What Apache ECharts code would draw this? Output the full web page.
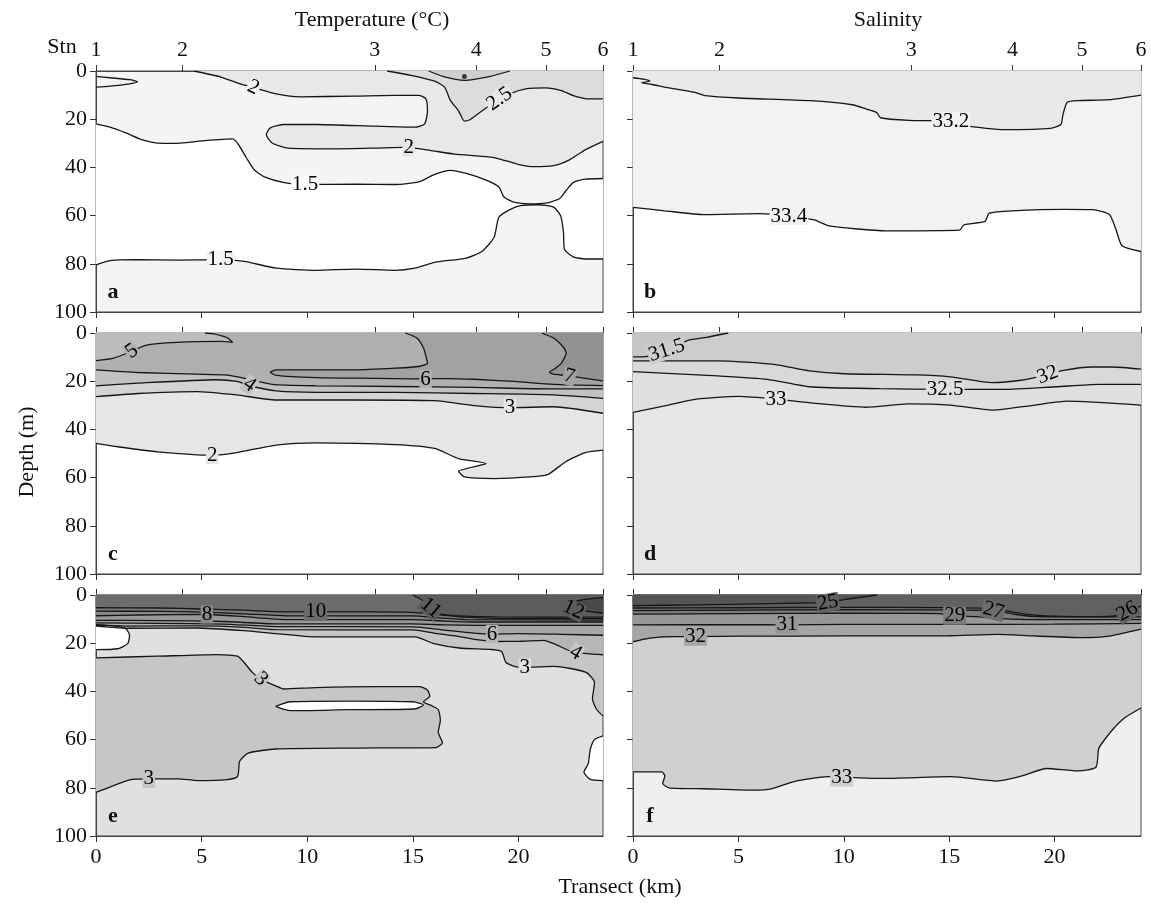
<!DOCTYPE html>
<html lang="en">
<head>
<meta charset="utf-8">
<title>Temperature and salinity sections</title>
<script src="https://cdn.jsdelivr.net/npm/echarts@6/dist/echarts.min.js"></script>
<style>
html, body { margin: 0; background: #fff; }
#main { width: 1151px; height: 906px; }
</style>
</head>
<body>
<div id="main"></div>
<script>
// ---- axes ----
var stnKmL = [0, 4.1, 13.2, 18.0, 21.3, 24.0];
var stnKmR = [0, 4.1, 13.2, 18.0, 21.3, 24.1];
var stnNames = ['1', '2', '3', '4', '5', '6'];
var kmTicks = [0, 5, 10, 15, 20];
var depthTicks = [0, 20, 40, 60, 80, 100];

// ---- panel a : temperature ----
var aTongue = [[0,2.2],[0.66,2.8],[1.59,3.6],[1.97,4.5],[1.59,5.3],[0.66,6.3],[0,6.7]];
var aT2 = [[4.63,0],[5.91,2.5],[6.84,5.3],[7.5,7.0],[8.53,9.5],[9.66,10.7],[12.28,10.4],[14.16,10.1],[15.28,10.1],[15.62,11.6],[15.69,16.5],[15.56,21.9],[15.09,23.3],[13.22,22.9],[10.41,22.2],[8.91,22.2],[8.25,23.6],[8.06,26.4],[8.34,29.9],[9.09,32],[11.34,32.3],[13.22,32],[14.53,31.7],[15.66,32.7],[16.97,34.5],[18.84,35.9],[19.97,38.7],[20.72,39.7],[21.66,39.3],[22.41,36.9],[23.16,32.7],[24,29.2]];
var aT25 = [[13.78,0],[14.91,1.8],[16.03,4.2],[16.5,6.7],[16.78,12.3],[17.16,16.5],[17.44,20.8],[17.72,20.1],[18.28,16.5],[18.75,13.7],[19.59,9.5],[20.34,7.4],[21.28,7.0],[22.03,8.1],[22.59,10.2],[23.34,11.6],[24,11.6]];
var aT3 = [[15.75,0],[16.41,2.2],[17.44,3.9],[18.66,2.2],[19.59,0]];
var aT15up = [[0,21.9],[0.66,23.3],[1.41,25.7],[2.16,28.5],[2.91,29.9],[3.84,30],[5.16,28.9],[6.47,28.2],[6.75,30.6],[7.13,36.2],[7.5,41.1],[7.97,43.9],[8.91,46.3],[9.84,47.1],[12.28,47],[14.16,47.1],[15.28,46],[16.03,42.9],[16.78,41.2],[17.53,42.5],[18.47,45.3],[19.07,48.1],[19.31,52.3],[19.78,54.4],[20.53,55.1],[21.28,54.8],[21.94,53],[22.26,49.5],[22.59,46.3],[23.16,44.9],[24,44.6]];
var aT15lo = [[0,80.4],[0.66,78.7],[1.97,78.3],[3.84,78.5],[5.91,78.3],[7.03,79],[8.53,81.8],[10.41,82.7],[12.28,82.2],[14.16,82.7],[15.09,81.8],[16.03,79.4],[17.53,77.6],[18.28,74.8],[18.84,69.1],[19.07,60.7],[19.59,57.5],[20.16,55.8],[20.91,55.5],[21.66,56.5],[21.99,60],[22.13,67],[22.18,74.1],[22.59,77.1],[23.16,78],[24,78]];
var aDot = [[17.44,2.3]];
var aLabels = [[7.45,6.8,'2'],[14.8,31.7,'2'],[19.1,11.6,'2.5'],[9.9,47.1,'1.5'],[5.9,78.3,'1.5']];

// ---- panel b : salinity ----
var bS332 = [[0,2.8],[0.5,3.4],[0.8,4.2],[0.4,4.9],[0.9,5.6],[1.7,7],[2.9,8.8],[3.4,10.2],[5,11.2],[8.4,12.3],[10.4,14],[11.07,15.8],[11.57,17.3],[11.74,19.4],[13.08,20.5],[15.08,20.8],[15.92,22.9],[17.6,24.3],[19.8,23.8],[20.3,22.2],[20.4,18],[20.6,13],[21.1,12.3],[22.6,11.9],[24.1,10]];
var bS334 = [[0,56.6],[1.5,58],[3.4,59.6],[6,59.2],[7.4,60.2],[8.6,61.8],[9.3,64.3],[12,66.3],[15.5,66],[15.7,63.8],[16.7,62.4],[16.9,59],[18,58],[20.5,57.4],[21.8,57.5],[22.6,59.5],[22.9,65.5],[23.2,72.5],[24.1,74.9]];
var bLabels = [[15.08,20.8,'33.2'],[7.4,60.2,'33.4']];

// ---- panel c : temperature ----
var cT7 = [[21.1,0],[21.66,2.1],[22.1,5.6],[22.26,8.3],[22.03,12.5],[21.75,14.6],[21.47,16.3],[21.66,17.1],[22.22,17.6],[23.16,18.8],[24,19.9]];
var cT6 = [[14.63,0],[15.19,2.1],[15.51,6.3],[15.62,9.7],[15.69,12.5],[15.28,13.9],[14.16,14.6],[12.28,15.3],[10.41,15.3],[8.53,15.3],[8.25,16.3],[8.53,17.6],[10.41,18.5],[13.22,18.8],[14.91,19],[16.6,18.9],[17.9,19.2],[19.8,20.1],[21.66,21.3],[24,21.8]];
var cT5top = [[0,11.5],[0.84,10.4],[1.69,7.6],[2.34,5.1],[3.84,3.9],[5.91,3.5],[6.47,3.9],[6.24,2.1],[5.53,0.3],[5.16,0]];
var cT5 = [[0,15.3],[1.97,16.4],[4.78,17.1],[6.09,17.4],[7.03,18.8],[8.34,21.3],[10.41,21.9],[14.16,22.2],[17.91,22.6],[21.66,23.2],[24,23.2]];
var cT4 = [[0,21.9],[1.97,20.8],[5.72,19.4],[6.66,20.1],[7.41,22.2],[8.53,24],[10.41,24.6],[14.16,24.6],[17.91,25.1],[21.66,25.7],[24,27.1]];
var cT3 = [[0,26.4],[1.97,25.1],[4.78,24.3],[6.66,25.7],[8.53,27.8],[12.28,27.8],[16.03,28.1],[17.91,30.1],[19.6,31],[21.66,30.6],[24,33.3]];
var cT2 = [[0,45.8],[1.03,47.2],[2.91,49.3],[5.53,50.7],[6.66,49.6],[8.53,46.5],[10.41,45.6],[14.16,46.3],[16.03,47.9],[17.16,52.1],[18.47,54.2],[17.16,57.4],[17.44,59.7],[18.84,60.4],[20.72,59.6],[21.38,58.8],[22.22,53.5],[23.16,49.6],[24,48.6]];
var cLabels = [[1.7,7.6,'5'],[15.6,19.1,'6'],[22.4,18,'7'],[7.26,21.5,'4'],[19.6,31,'3'],[5.5,50.7,'2']];

// ---- panel d : salinity ----
var dS315 = [[0,9.9],[0.6,9.8],[1.6,7.2],[2.6,3.1],[3.5,1.8],[4.52,0]];
var dS32 = [[0,11.6],[4.02,11.6],[6.69,13],[8.37,15.7],[10.04,16.9],[13.39,17.4],[15.06,18.2],[17.07,20.6],[18.41,19.6],[19.67,17.4],[20.42,15.5],[21.76,14.1],[22.76,14.1],[24.1,15]];
var dS325 = [[0,16],[4.02,17.8],[6.36,19.2],[8.37,22.3],[11.72,23.1],[14.81,23.4],[17.57,23.4],[20.08,22.3],[22.09,21.3],[24.1,21.3]];
var dS33 = [[0,32.9],[1.67,29.9],[3.01,27.4],[5.02,26.3],[6.78,27.4],[8.54,29.1],[11.05,30.8],[13.05,29.4],[15.06,29.9],[17.07,32],[19.08,29.9],[20.59,28.3],[24.1,29.9]];
var dLabels = [[1.6,7.2,'31.5'],[19.67,17.4,'32'],[14.81,23.4,'32.5'],[6.78,27.4,'33']];

// ---- panel e : temperature ----
var eT12 = [[24,1],[23,2],[22.5,3.5],[22.6,5.5],[23.3,6.8],[24,7.5]];
var eT11 = [[15,0],[15.5,2.5],[15.9,5.5],[16.4,8],[17.5,8.8],[19,9.1],[21,9.2],[24,9.2]];
var eT10 = [[0,5.3],[3,5.4],[5,5.8],[7,6.3],[8.5,6.9],[10.4,7],[13,7],[15,7.2],[16,8],[17.5,9.2],[19,9.7],[24,9.8]];
var eT9 = [[0,6.7],[3,6.8],[5,7.1],[7,7.8],[9,8.6],[15,8.7],[16.2,9.5],[17.5,10.2],[24,10.4]];
var eT8 = [[0,8.6],[2,8.3],[5.25,8.1],[7,9],[9,10.2],[15,10.2],[16.5,10.8],[18,11.2],[24,11.2]];
var eT7 = [[0,10.5],[3,10.6],[6,11],[8.5,12],[15,12],[16.5,12.4],[18,12.6],[24,12.6]];
var eT6 = [[0,11.6],[3,11.8],[6,12.1],[8.5,13.1],[15,13.2],[16.5,14.6],[18,15.9],[18.75,16.2],[20,16],[22,16.3],[24,16.7]];
var eT4 = [[0,12.3],[1.6,12.9],[4.8,12.8],[7,13.4],[8.5,14.4],[15,14.5],[16,15.8],[17,17],[18,18.5],[19,19.3],[20.1,19.2],[21.2,18.8],[21.8,20.7],[22.6,23.7],[24,24.8]];
var eT3a = [[0,12.9],[1.6,13.8],[4.8,13.7],[7,14.8],[8.5,16],[10.4,17.4],[15.1,17.4],[16,20.2],[17.2,22],[18.7,22.6],[19.2,23.4],[19.4,27.9],[19.8,29.6],[20.3,30],[21.7,29.6],[23.2,32.1],[23.6,36.3],[23.5,43.2],[23.7,47.5],[24,50.2]];
var eT3b = [[0,26.1],[2.9,25.4],[5.7,24.7],[6.7,25.4],[7,27.9],[7.4,32.1],[7.8,34.9],[8.5,37.7],[8.9,39],[10.4,38.4],[13.2,38],[15.3,38],[15.7,39.5],[15.8,42],[15.5,44.3],[15.9,46],[16.2,47.5],[16.3,52],[16.2,57],[16.4,61.3],[16.1,63.3],[12.3,63.5],[8.5,63.9],[7.2,65.6],[6.8,69],[6.7,75.3],[6.1,76.7],[4.8,77],[3.9,76.3],[2.5,76.3],[1.6,76.7],[0,81.9]];
var eHole = [[8.5,46.2],[9.2,44.3],[12,44],[15,44.3],[15.5,45.6],[15.1,47.3],[12,47.6],[9.2,48],[8.5,46.2]];
var eWarmL = [[0,12.6],[0.84,12.8],[1.41,14],[1.59,16.7],[1.5,20.2],[1.03,22.3],[0,22.7]];
var eColdR = [[24,58.5],[23.6,60],[23.4,64],[23.3,70],[23.1,73.5],[23.4,76.5],[24,77]];
var eLabels = [[5.25,8.1,'8'],[10.4,7,'10'],[15.85,5.4,'11'],[22.6,6.1,'12'],[18.75,16.2,'6'],[22.7,24,'4'],[20.3,30,'3'],[7.8,34.9,'3'],[2.5,76.3,'3']];

// ---- panel f : salinity ----
var fS25 = [[0,4.4],[3,4.1],[6,3.7],[8.5,3.3],[9.24,3.2],[10.07,1.8],[11.58,0]];
var fS26 = [[0,5.4],[5,5.3],[10,5.1],[15,5.2],[17,5.6],[18.5,7.8],[20,8.8],[22,9],[23,8.5],[23.5,6.8],[24.1,4.6]];
var fS27 = [[0,6.5],[5,6.3],[10,6.1],[15,6.2],[16.5,6.4],[17.1,6.5],[18.5,8.5],[20,9.1],[22,9.1],[24.1,9.1]];
var fS29 = [[0,7.9],[5,7.7],[10,7.5],[14.5,7.7],[15.26,8.6],[16.3,9],[17.5,9.8],[19,10.2],[24.1,10.2]];
var fS31 = [[0,12.4],[5,12.3],[7.31,12.4],[10,12.2],[15,12.2],[20,12.1],[24.1,11.8]];
var fS32 = [[0,19.4],[0.8,17.9],[2,17.3],[2.96,17.3],[5,17.1],[10,17],[15,16.9],[17.3,16.3],[19,17],[21.3,17.7],[22.5,17.2],[24.1,14.2]];
var fS33 = [[0,73.4],[1.37,73.4],[1.51,75.1],[1.41,78.2],[1.71,80],[3.38,80.4],[5.89,81],[6.56,80.4],[7.73,77.2],[9.24,75.4],[11.75,76.1],[15.1,75.4],[17.27,77.2],[18.44,75.1],[19.61,72],[21.12,73],[21.96,71.5],[22.09,63.8],[22.29,61],[22.8,55.4],[23.3,51.1],[24.1,46.9]];
var fLabels = [[9.24,3.2,'25'],[23.45,6.8,'26'],[17.1,6.5,'27'],[15.26,8.6,'29'],[7.31,12.4,'31'],[2.96,17.3,'32'],[9.9,75.8,'33']];

// ---------------------------------------------------------------
var FONT = '"Liberation Serif", "DejaVu Serif", serif';
var chart = echarts.init(document.getElementById('main'));

var LEFT = [96, 633], WIDTH = [507, 508], TOP = [71, 333, 595], HEIGHT = 241;
var XMAX = [24, 24.1];
var bg = ['#f4f4f4', '#ffffff', '#ffffff', '#e6e6e6', '#e0e0e0', '#efefef'];

var grids = [], xAxes = [], yAxes = [], series = [];
var tickStyle = { color: '#333', width: 1 };
var lab = { fontFamily: FONT, fontSize: 22, color: '#111' };

for (var i = 0; i < 6; i++) {
    var col = i % 2, row = Math.floor(i / 2);
    var stn = col === 0 ? stnKmL : stnKmR;
    grids.push({ left: LEFT[col], top: TOP[row], width: WIDTH[col], height: HEIGHT,
        show: true, backgroundColor: bg[i], borderColor: '#444', borderWidth: 1 });
    xAxes.push({ gridIndex: i, type: 'value', min: 0, max: XMAX[col], position: 'bottom',
        axisLine: { show: true, onZero: false, lineStyle: { color: '#444' } },
        axisTick: { show: true, length: 6, customValues: kmTicks, lineStyle: tickStyle },
        axisLabel: Object.assign({ show: row === 2, customValues: kmTicks, margin: 10 }, lab),
        splitLine: { show: false } });
    xAxes.push({ gridIndex: i, type: 'value', min: 0, max: XMAX[col], position: 'top',
        axisLine: { show: true, onZero: false, lineStyle: { color: '#444' } },
        axisTick: { show: true, length: 6, customValues: stn, lineStyle: tickStyle },
        axisLabel: Object.assign({ show: row === 0, customValues: stn, margin: 10,
            formatter: (function (s) {
                return function (v) {
                    var best = 0;
                    for (var k = 0; k < s.length; k++) if (Math.abs(s[k] - v) < Math.abs(s[best] - v)) best = k;
                    return stnNames[best];
                };
            })(stn) }, lab),
        splitLine: { show: false } });
    yAxes.push({ gridIndex: i, type: 'value', min: 0, max: 100, inverse: true,
        axisLine: { show: true, onZero: false, lineStyle: { color: '#444' } },
        axisTick: { show: true, length: 6, customValues: depthTicks, lineStyle: tickStyle },
        axisLabel: Object.assign({ show: col === 0, customValues: depthTicks, margin: 9 }, lab),
        splitLine: { show: false } });
}

function fill(gi, pts, color) {
    series.push({ type: 'custom', xAxisIndex: 2 * gi, yAxisIndex: gi, silent: true, z: 2,
        data: [[0, 0]],
        renderItem: function (params, api) {
            return { type: 'polygon',
                shape: { points: pts.map(function (p) { return api.coord(p); }) },
                style: { fill: color, stroke: color, lineWidth: 0.6 } };
        } });
}
function contour(gi, pts) {
    series.push({ type: 'line', xAxisIndex: 2 * gi, yAxisIndex: gi, data: pts, silent: true,
        showSymbol: false, smooth: 0.2, z: 3, lineStyle: { color: '#161616', width: 1.3 } });
}
function labels(gi, items, rots, bgs) {
    series.push({ type: 'scatter', xAxisIndex: 2 * gi, yAxisIndex: gi, silent: true, z: 4,
        symbolSize: 0, itemStyle: { color: '#111', opacity: 1 },
        label: { show: true, position: 'inside', formatter: '{b}', fontFamily: FONT, fontSize: 21,
            color: '#000', opacity: 1, textBorderWidth: 0, padding: [0, 1], lineHeight: 18 },
        data: items.map(function (d, k) {
            return { name: d[2], value: [d[0], d[1]],
                label: { rotate: rots[k] || 0, backgroundColor: bgs[k] } };
        }) });
}
function above(line, x1) { return line.concat([[x1, 0], [0, 0]]); }

// panel a
fill(0, aT15up.concat(aT15lo.slice().reverse()), '#ffffff');
fill(0, aT2.concat([[24, 0]]), '#e8e8e8');
fill(0, aT25.concat([[24, 0]]), '#dcdcdc');
fill(0, aT3, '#cfcfcf');
[aTongue, aT2, aT25, aT3, aT15up, aT15lo].forEach(function (l) { contour(0, l); });
series.push({ type: 'scatter', xAxisIndex: 0, yAxisIndex: 0, data: aDot, symbolSize: 5,
    itemStyle: { color: '#111' }, silent: true, z: 4 });
labels(0, aLabels, [-25, 0, 35, 0, 0], ['#f4f4f4', '#e8e8e8', '#e8e8e8', '#ffffff', '#f4f4f4']);

// panel b
fill(1, above(bS334, 24.1), '#f2f2f2');
fill(1, above(bS332, 24.1), '#e9e9e9');
[bS332, bS334].forEach(function (l) { contour(1, l); });
labels(1, bLabels, [0, 0], ['#f2f2f2', '#f2f2f2']);

// panel c
fill(2, above(cT2, 24), '#e6e6e6');
fill(2, above(cT3, 24), '#d4d4d4');
fill(2, above(cT4, 24), '#c2c2c2');
fill(2, above(cT5, 24), '#b0b0b0');
fill(2, cT5top.concat([[0, 0]]), '#bdbdbd');
fill(2, cT6.concat([[24, 0]]), '#a2a2a2');
fill(2, cT7.concat([[24, 0]]), '#929292');
[cT7, cT6, cT5top, cT5, cT4, cT3, cT2].forEach(function (l) { contour(2, l); });
labels(2, cLabels, [35, 0, -15, -35, 0, 0], ['#b0b0b0', '#b0b0b0', '#a2a2a2', '#c2c2c2', '#e6e6e6', '#e6e6e6']);

// panel d
fill(3, above(dS33, 24.1), '#e0e0e0');
fill(3, above(dS325, 24.1), '#d9d9d9');
fill(3, above(dS32, 24.1), '#cdcdcd');
fill(3, dS315.concat([[0, 0]]), '#c7c7c7');
[dS315, dS32, dS325, dS33].forEach(function (l) { contour(3, l); });
labels(3, dLabels, [18, 20, 0, 0], ['#cdcdcd', '#d9d9d9', '#e0e0e0', '#e6e6e6']);

// panel e
fill(4, above(eT3a, 24), '#c6c6c6');
fill(4, above(eT4, 24), '#b6b6b6');
fill(4, above(eT6, 24), '#a6a6a6');
fill(4, above(eT7, 24), '#999999');
fill(4, above(eT8, 24), '#8a8a8a');
fill(4, above(eT9, 24), '#7c7c7c');
fill(4, above(eT10, 24), '#6c6c6c');
fill(4, eT11.concat([[24, 0]]), '#5c5c5c');
fill(4, eT12, '#4a4a4a');
fill(4, eWarmL, '#ffffff');
fill(4, eT3b, '#c6c6c6');
fill(4, eHole, '#ffffff');
fill(4, eColdR, '#ffffff');
[eT12, eT11, eT10, eT9, eT8, eT7, eT6, eT4, eT3a, eT3b, eHole, eWarmL, eColdR].forEach(function (l) { contour(4, l); });
labels(4, eLabels, [0, 0, -40, -25, 0, -30, 0, -45, 0],
    ['#8a8a8a', '#6c6c6c', '#5c5c5c', '#5c5c5c', '#b6b6b6', '#c6c6c6', '#e0e0e0', '#c6c6c6', '#c6c6c6']);

// panel f
fill(5, above(fS33, 24.1), '#d0d0d0');
fill(5, above(fS32, 24.1), '#a6a6a6');
fill(5, above(fS31, 24.1), '#979797');
fill(5, above(fS29, 24.1), '#7d7d7d');
fill(5, above(fS27, 24.1), '#6d6d6d');
fill(5, above(fS26, 24.1), '#616161');
fill(5, fS25.concat([[0, 0]]), '#555555');
[fS25, fS26, fS27, fS29, fS31, fS32, fS33].forEach(function (l) { contour(5, l); });
labels(5, fLabels, [10, 30, -15, 0, 0, 0, 0],
    ['#616161', '#616161', '#6d6d6d', '#7d7d7d', '#979797', '#a6a6a6', '#d0d0d0']);

function txt(x, y, s, extra) {
    return { type: 'text', x: x, y: y, silent: true,
        style: Object.assign({ text: s, font: '22px ' + FONT, fill: '#111', align: 'center', verticalAlign: 'middle' }, extra || {}) };
}
var graphics = [
    txt(372, 20, 'Temperature (\u00b0C)'),
    txt(888, 20, 'Salinity'),
    txt(62, 47, 'Stn'),
    txt(620, 887, 'Transect (km)')
];
var depthLabel = txt(0, 0, 'Depth (m)');
depthLabel.x = 27; depthLabel.y = 452; depthLabel.rotation = Math.PI / 2;
graphics.push(depthLabel);
['a', 'b', 'c', 'd', 'e', 'f'].forEach(function (s, k) {
    var col = k % 2, row = Math.floor(k / 2);
    graphics.push(txt(LEFT[col] + 17, TOP[row] + HEIGHT - 20, s, { font: 'bold 22px ' + FONT }));
});

chart.setOption({
    animation: false,
    grid: grids,
    xAxis: xAxes,
    yAxis: yAxes,
    series: series,
    graphic: graphics
});
</script>
</body>
</html>
